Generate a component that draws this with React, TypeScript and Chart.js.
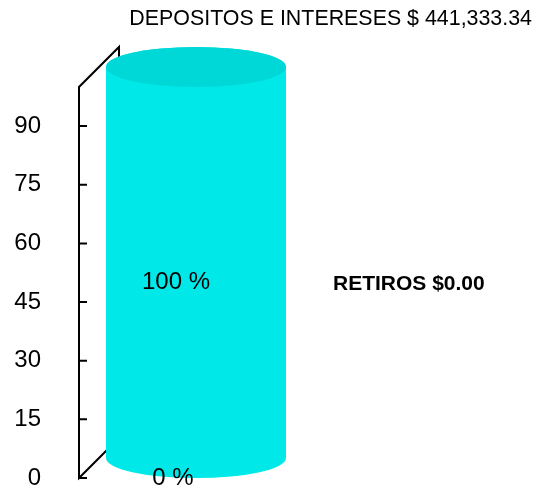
import React, { useEffect, useRef } from "react";
import { Chart, registerables } from "chart.js";

Chart.register(...registerables);

const categories = [""];
const seriesNames = ["DEPOSITOS E INTERESES $ 441,333.34", "RETIROS $0.00"];
const depositosPct = [100];
const retirosPct = [0];
const yTicks = [0, 15, 30, 45, 60, 75, 90];

const FONT = '"Liberation Sans", Arial, Helvetica, sans-serif';
const DEPTH = 40;
const SIDE = "#00E8E8";
const TOPC = "#00D8D8";

const cylinderPlugin = {
  id: "cyl3d",
  beforeDatasetsDraw(chart: any) {
    const ctx = chart.ctx;
    const y = chart.scales.y;
    const x0 = chart.chartArea.left;
    const top = y.getPixelForValue(y.max);
    const bottom = y.getPixelForValue(y.min);
    ctx.save();
    ctx.strokeStyle = "#000";
    ctx.lineWidth = 2;
    ctx.beginPath();
    ctx.moveTo(x0 + DEPTH, bottom - DEPTH);
    ctx.lineTo(x0, bottom);
    ctx.lineTo(x0, top);
    ctx.lineTo(x0 + DEPTH, top - DEPTH);
    ctx.lineTo(x0 + DEPTH, bottom - DEPTH);
    yTicks.forEach((v) => {
      const py = y.getPixelForValue(v);
      ctx.moveTo(x0, py);
      ctx.lineTo(x0 + 8, py);
    });
    ctx.stroke();
    ctx.restore();
  },
  afterDatasetsDraw(chart: any) {
    const ctx = chart.ctx;
    const meta0 = chart.getDatasetMeta(0);
    const meta1 = chart.getDatasetMeta(1);
    ctx.save();
    meta0.data.forEach((bar: any) => {
      const r = bar.width / 2;
      const cx = bar.x + DEPTH / 2;
      const topC = bar.y - DEPTH / 2;
      const botC = bar.base - DEPTH / 2;
      const ry = DEPTH / 2;
      ctx.fillStyle = SIDE;
      ctx.beginPath();
      ctx.moveTo(cx - r, topC);
      ctx.lineTo(cx - r, botC);
      ctx.ellipse(cx, botC, r, ry, 0, Math.PI, 0, true);
      ctx.lineTo(cx + r, topC);
      ctx.ellipse(cx, topC, r, ry, 0, 0, Math.PI, true);
      ctx.closePath();
      ctx.fill();
      ctx.fillStyle = TOPC;
      ctx.beginPath();
      ctx.ellipse(cx, topC, r, ry, 0, 0, Math.PI * 2);
      ctx.fill();
    });
    ctx.fillStyle = "#000";
    ctx.textAlign = "center";
    ctx.textBaseline = "middle";
    ctx.font = `24px ${FONT}`;
    meta0.data.forEach((bar: any, i: number) => {
      ctx.fillText(`${depositosPct[i]} %`, bar.x, (bar.y + bar.base) / 2);
    });
    meta1.data.forEach((bar: any, i: number) => {
      ctx.fillText(`${retirosPct[i]} %`, bar.x - 3, bar.y);
    });
    const area = chart.chartArea;
    ctx.font = `21.4px ${FONT}`;
    ctx.textAlign = "right";
    ctx.fillText(seriesNames[0], chart.width - 5, 19);
    ctx.font = `bold 21px ${FONT}`;
    ctx.textAlign = "left";
    ctx.fillText(seriesNames[1], area.right + 60, (area.top + area.bottom) / 2 + 2);
    ctx.restore();
  },
};

export default function App() {
  const ref = useRef<HTMLCanvasElement | null>(null);
  useEffect(() => {
    if (!ref.current) return;
    const chart = new Chart(ref.current, {
      type: "bar",
      data: {
        labels: categories,
        datasets: [
          {
            label: seriesNames[0],
            data: depositosPct,
            backgroundColor: "rgba(0,0,0,0)",
            borderWidth: 0,
            barThickness: 180,
            grouped: false,
          } as any,
          {
            label: seriesNames[1],
            data: retirosPct,
            backgroundColor: "rgba(0,0,0,0)",
            borderWidth: 0,
            barThickness: 180,
            grouped: false,
          } as any,
        ],
      },
      options: {
        responsive: false,
        animation: false,
        devicePixelRatio: 1,
        layout: { padding: { top: 87, bottom: 13, left: 0, right: 264 } },
        plugins: { legend: { display: false }, tooltip: { enabled: false }, title: { display: false } },
        scales: {
          x: { display: false },
          y: {
            min: 0,
            max: 100,
            afterFit: (scale: any) => {
              scale.width = 79;
              scale.paddingTop = 0;
              scale.paddingBottom = 0;
            },
            afterBuildTicks: (scale: any) => {
              scale.ticks = yTicks.map((v) => ({ value: v }));
            },
            grid: { display: false, drawTicks: false },
            border: { display: false },
            ticks: {
              padding: 38,
              color: "#000",
              font: { family: FONT, size: 24 },
            },
          },
        },
      },
      plugins: [cylinderPlugin],
    });
    return () => chart.destroy();
  }, []);
  return (
    <div style={{ position: "absolute", left: 0, top: 0, width: 537, height: 491, background: "#fff" }}>
      <canvas ref={ref} width={537} height={491} style={{ display: "block" }} />
    </div>
  );
}
